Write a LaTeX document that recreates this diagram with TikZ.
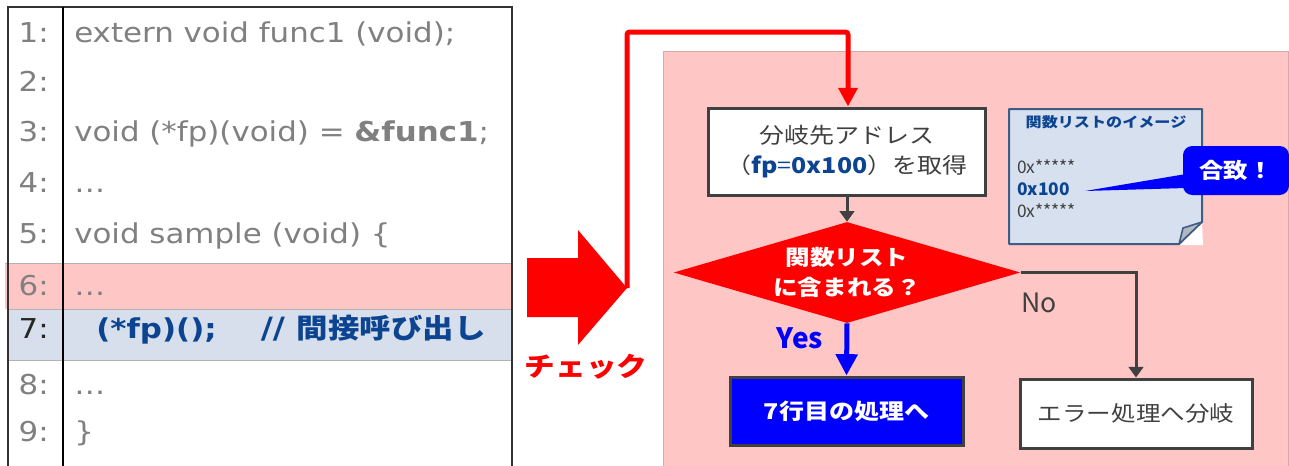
\documentclass[tikz,border=0pt]{standalone}
\usepackage{fontspec}
\setmainfont{DejaVu Sans}
\newfontfamily\codefont[FakeStretch=1.13]{DejaVu Sans}
\newfontfamily\jp[FakeStretch=1.15]{Noto Sans CJK JP}
\newfontfamily\jpplain{Noto Sans CJK JP}
\usetikzlibrary{arrows.meta,shapes.geometric}
\definecolor{codegray}{RGB}{128,128,128}
\definecolor{pinkbg}{RGB}{255,198,198}
\definecolor{pinkedge}{RGB}{215,170,170}
\definecolor{bandblue}{RGB}{214,223,235}
\definecolor{navy}{RGB}{12,68,145}
\definecolor{dgray}{RGB}{64,64,64}
\definecolor{notefill}{RGB}{214,224,238}
\definecolor{noteedge}{RGB}{62,92,132}
\definecolor{foldgray}{RGB}{176,184,196}
\definecolor{pureblue}{RGB}{0,0,255}
\definecolor{purered}{RGB}{255,0,0}
\definecolor{borderc}{RGB}{50,50,50}
\tikzset{
  lnum/.style={anchor=base east,inner sep=0pt,font=\codefont\fontsize{20.5}{24}\selectfont,text=codegray},
  ctext/.style={anchor=base west,inner sep=0pt,font=\codefont\fontsize{20.5}{24}\selectfont,text=codegray},
  flowbox/.style={draw=dgray,line width=2.25pt,rectangle,inner sep=0pt,align=center},
  garrow/.style={draw=dgray,line width=2.25pt,-{Triangle[width=11pt,length=8pt]}},
  notetxt/.style={anchor=base west,inner sep=0pt,font=\jpplain\fontsize{13}{15}\selectfont,text=dgray},
}
\begin{document}
\begin{tikzpicture}[x=0.75pt,y=-0.75pt]
\useasboundingbox (0,0) rectangle (1289,465);
% ---------- code panel ----------
\fill[pinkbg] (5,263) rectangle (512,309);
\fill[bandblue] (8,309) rectangle (512,360);
\draw[gray!60,line width=0.75pt] (5,263) -- (512,263);
\draw[gray!60,line width=0.75pt] (8,309) -- (512,309);
\draw[gray!60,line width=0.75pt] (8,360) -- (512,360);
\draw[borderc,line width=1.5pt] (8,466) -- (8,7) -- (512,7) -- (512,466);
\draw[black,line width=1.2pt] (63,7) -- (63,466);
\node[lnum] (l1) at (49,42) {1:};
\node[lnum] (l2) at (49,91) {2:};
\node[lnum] (l3) at (49,141) {3:};
\node[lnum] (l4) at (49,192) {4:};
\node[lnum] (l5) at (49,243) {5:};
\node[lnum] (l6) at (49,295) {6:};
\node[lnum,text=black!85] (l7) at (49,338) {7:};
\node[lnum] (l8) at (49,394) {8:};
\node[lnum] (l9) at (49,441) {9:};
\node[ctext] (c1) at (74,42) {extern void func1 (void);};
\node[ctext] (c3) at (74,141) {void (*fp)(void) = \textbf{\&func1};};
\node[ctext] (c4) at (74,192) {…};
\node[ctext] (c5) at (74,243) {void sample (void) \{};
\node[ctext] (c6) at (74,295) {…};
\node[ctext,text=navy] (c7) at (96,338) {\textbf{(*fp)();}\hspace{33pt}{\fontsize{22}{24}\selectfont\textbf{//}}\hspace{9pt}{\jp\bfseries\fontsize{20.5}{24}\selectfont 間接呼び出し}};
\node[ctext] (c8) at (74,394) {…};
\node[ctext] (c9) at (74,441) {\}};
% ---------- big red arrow ----------
\fill[purered] (527,258) -- (578,258) -- (578,230) -- (627,288) -- (578,345) -- (578,317) -- (527,317) -- cycle;
\coordinate (tip) at (627,288);
\node[font=\jp\bfseries\fontsize{20}{24}\selectfont,text=purered,inner sep=0pt] (chk) at (586,367) {チェック};
% ---------- pink panel ----------
\draw[fill=pinkbg,draw=pinkedge,line width=0.75pt] (663,51) rectangle (1288,466);
% ---------- flowchart ----------
\node[flowbox,fill=white,minimum width=207.75pt,minimum height=65.25pt,
      font=\jp\fontsize{16.3}{23}\selectfont,text=dgray] (b1) at (847,151.5)
  {分岐先アドレス\\（{\color{navy}\textbf{fp}=\textbf{0x100}}）を取得};
\node[diamond,fill=purered,inner sep=0pt,aspect=3.44,minimum width=260pt,minimum height=75.75pt,
      align=center,font=\jp\bfseries\fontsize{16}{22.5}\selectfont,text=white] (dia) at (847,272.5)
  {関数リスト\\に含まれる？};
\node[flowbox,fill=pureblue,minimum width=174.75pt,minimum height=51pt,
      font=\jp\bfseries\fontsize{16.3}{18}\selectfont,text=white] (yesbox) at (846.5,411) {7行目の処理へ};
\node[flowbox,fill=white,minimum width=174pt,minimum height=51.75pt,
      font=\jp\fontsize{16}{20}\selectfont,text=dgray] (nobox) at (1136,413.5) {エラー処理へ分岐};
\draw[purered,line width=3.75pt,rounded corners=2pt,-{Triangle[width=14pt,length=14pt]}]
  (tip) -- (627,32) -- (848,32) -- (b1.north -| 848,0);
\draw[garrow] (b1.south) -- (dia.north);
\draw[garrow] (dia.east) -| (nobox.north);
\draw[pureblue,line width=3.75pt,-{Triangle[width=16pt,length=16pt]}] (dia.south) -- (yesbox.north);
\node[font=\jpplain\bfseries\fontsize{21}{24}\selectfont,text=pureblue,inner sep=0pt] (yes) at (800,338) {Yes};
\node[font=\jpplain\fontsize{20}{24}\selectfont,text=dgray,inner sep=0pt] (no) at (1039,303) {No};
% ---------- note ----------
\draw[fill=notefill,draw=noteedge,line width=1.5pt,line join=round]
  (1009,109) -- (1202,109) -- (1202,222) -- (1179,244) -- (1009,244) -- cycle;
\fill[white] (1202,223) -- (1203,245) -- (1180,245) -- cycle;
\draw[fill=foldgray,draw=noteedge,line width=1.2pt,line join=round] (1202,222) -- (1183,228) -- (1179,244) -- cycle;
\node[font=\jp\bfseries\fontsize{10.5}{12}\selectfont,text=navy,inner sep=0pt] (ntitle) at (1106,122) {関数リストのイメージ};
\node[notetxt] (i1) at (1017,173) {0x*****};
\node[notetxt,text=navy,font=\jpplain\bfseries\fontsize{13}{15}\selectfont] (i2) at (1017,195) {0x100};
\node[notetxt] (i3) at (1017,217) {0x*****};
% ---------- callout ----------
\coordinate (ctip) at (1085,191);
\fill[pureblue] (ctip) -- (1186,174) -- (1186,188) -- cycle;
\node[fill=pureblue,rounded corners=7pt,minimum width=79.5pt,minimum height=36.75pt,inner sep=0pt,
      font=\jp\bfseries\fontsize{16}{18}\selectfont,text=white] (match) at (1236,170.5) {合致！};
\end{tikzpicture}
\end{document}
